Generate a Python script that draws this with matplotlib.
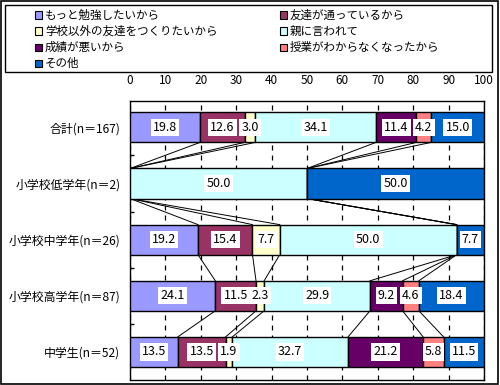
import numpy as np
import matplotlib.pyplot as plt
from matplotlib.patches import Rectangle

plt.rcParams['font.family'] = ['Noto Sans CJK JP', 'DejaVu Sans']

groups = ['合計(n＝167)', '小学校低学年(n＝2)', '小学校中学年(n＝26)',
          '小学校高学年(n＝87)', '中学生(n＝52)']
reasons = ['もっと勉強したいから', '友達が通っているから',
           '学校以外の友達をつくりたいから', '親に言われて',
           '成績が悪いから', '授業がわからなくなったから', 'その他']
colors = ['#9999FF', '#993366', '#FFFFCC', '#CCFFFF',
          '#660066', '#FF8080', '#0066CC']

total = [19.8, 12.6, 3.0, 34.1, 11.4, 4.2, 15.0]
low = [0.0, 0.0, 0.0, 50.0, 0.0, 0.0, 50.0]
middle = [19.2, 15.4, 7.7, 50.0, 0.0, 0.0, 7.7]
high = [24.1, 11.5, 2.3, 29.9, 9.2, 4.6, 18.4]
junior = [13.5, 13.5, 1.9, 32.7, 21.2, 5.8, 11.5]

values = np.array([total, low, middle, high, junior])
cum = np.cumsum(values, axis=1)
starts = cum - values

fig = plt.figure(figsize=(5, 3.85), dpi=100)
ax = fig.add_axes([0.26, 0.013, 0.708, 0.7247])

bar_h = 0.535
y = np.arange(len(groups))

for j, (name, c) in enumerate(zip(reasons, colors)):
    ax.barh(y, values[:, j], left=starts[:, j], height=bar_h, color=c,
            edgecolor='black', linewidth=1.0, zorder=3, label=name)
    for i in range(len(groups)):
        v = values[i, j]
        if v > 0:
            ax.text(starts[i, j] + v / 2, y[i], f'{v:.1f}', ha='center',
                    va='center', fontsize=9, zorder=5,
                    bbox={'facecolor': 'white', 'edgecolor': 'none', 'pad': 1.5})

# lines joining the segment boundaries of neighbouring bars
for i in range(len(groups) - 1):
    for j in range(len(reasons) - 1):
        ax.plot([cum[i, j], cum[i + 1, j]],
                [y[i] + bar_h / 2, y[i + 1] - bar_h / 2],
                color='black', linewidth=0.7, zorder=2)

ax.set_xlim(0, 100)
ax.set_ylim(4.5, -0.47)
ax.set_xticks(np.arange(0, 101, 10))
ax.xaxis.tick_top()
ax.tick_params(axis='x', length=0, pad=10, labelsize=8.5)
ax.set_yticks(y)
ax.set_yticklabels(groups, fontsize=8.6)
ax.tick_params(axis='y', length=0, pad=7)
ax.set_yticks(np.arange(0.5, len(groups) - 0.5, 1), minor=True)
ax.tick_params(axis='y', which='minor', direction='in', length=3, width=1)
ax.grid(axis='x', color='black', linestyle=(0, (4, 4)), linewidth=0.9, zorder=1)
ax.set_axisbelow(True)
for s in ax.spines.values():
    s.set_linewidth(1.0)

# legend box
W, H = 500, 385


def fx(px):
    return px / W


def fy(py):
    return 1 - py / H


fig.patches.append(Rectangle((fx(5), fy(72)), fx(487), 67 / H, fill=False,
                             edgecolor='black', linewidth=1.0,
                             transform=fig.transFigure))
col_x = [35, 280]
row_y = [15, 31, 47, 63]
for k in range(len(reasons)):
    cx = col_x[k % 2]
    ry = row_y[k // 2]
    fig.patches.append(Rectangle((fx(cx), fy(ry + 3.5)), 7 / W, 7 / H,
                                 facecolor=colors[k], edgecolor='black',
                                 linewidth=0.8, transform=fig.transFigure))
    fig.text(fx(cx + 10), fy(ry), reasons[k], fontsize=8.3, va='center',
             ha='left')

# outer frame
fig.patches.append(Rectangle((0.002, 0.003), 0.994, 0.994, fill=False,
                             edgecolor='black', linewidth=1.2,
                             transform=fig.transFigure))

fig.savefig('out.png', dpi=100)
